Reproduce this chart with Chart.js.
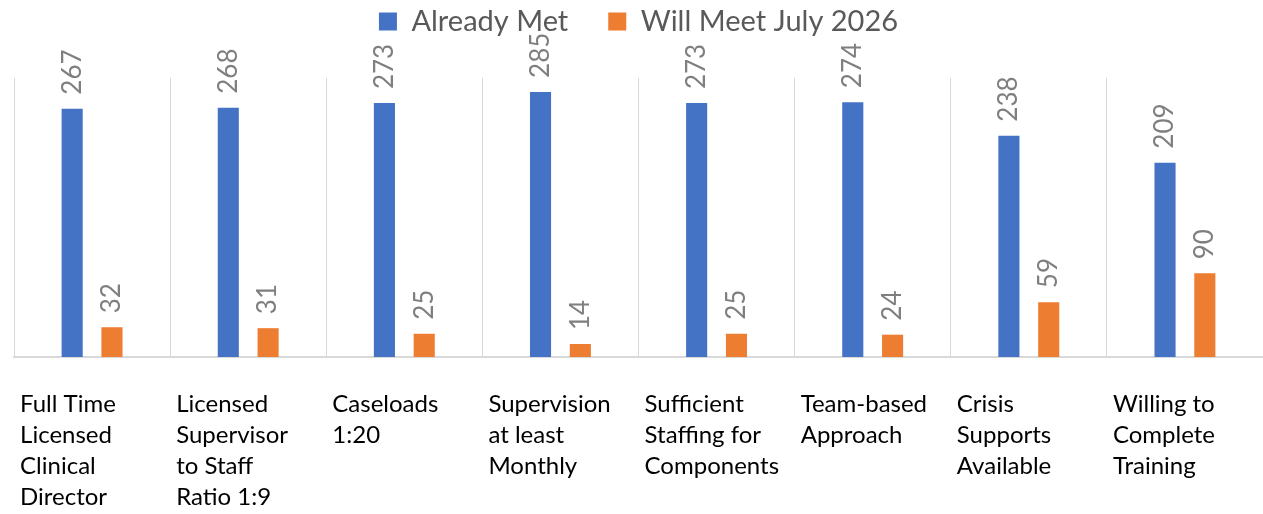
<!DOCTYPE html>
<html>
<head>
<meta charset="utf-8">
<script src="https://cdn.jsdelivr.net/npm/chart.js@4"></script>
<style>
  html, body { margin: 0; padding: 0; background: #fff; overflow: hidden; }
  #wrap { width: 1263px; height: 514px; position: relative; }
</style>
</head>
<body>
<div id="wrap"><canvas id="grafico"></canvas></div>
<script>
// datos del grafico
const categorias = [
    ["Full Time", "Licensed", "Clinical", "Director"],
    ["Licensed", "Supervisor", "to Staff", "Ratio 1:9"],
    ["Caseloads", "1:20"],
    ["Supervision", "at least", "Monthly"],
    ["Sufficient", "Staffing for", "Components"],
    ["Team-based", "Approach"],
    ["Crisis", "Supports", "Available"],
    ["Willing to", "Complete", "Training"]
];
const seriesNombres = ["Already Met", "Will Meet July 2026"];
const yaCumplido = [267, 268, 273, 285, 273, 274, 238, 209];
const cumpliraJulio = [32, 31, 25, 14, 25, 24, 59, 90];

const azul = "#4472C4";
const naranja = "#ED7D31";
const fuente = "Lato, 'Liberation Sans', sans-serif";

// etiquetas de valor giradas encima de cada barra
const etiquetasBarras = {
    id: "etiquetasBarras",
    afterDatasetsDraw(chart) {
        const ctx = chart.ctx;
        ctx.save();
        ctx.font = "26px " + fuente;
        ctx.fillStyle = "#7f7f7f";
        ctx.textAlign = "left";
        ctx.textBaseline = "middle";
        chart.data.datasets.forEach((ds, i) => {
            chart.getDatasetMeta(i).data.forEach((barra, j) => {
                ctx.save();
                ctx.translate(barra.x, barra.y - 14);
                ctx.rotate(-Math.PI / 2);
                ctx.fillText(ds.data[j], 0, 0);
                ctx.restore();
            });
        });
        ctx.restore();
    }
};

// la leyenda ocupa todo el espacio de arriba hasta el area del grafico
const altoLeyenda = {
    id: "altoLeyenda",
    beforeInit(chart) {
        const fitOriginal = chart.legend.fit;
        chart.legend.fit = function fit() {
            fitOriginal.bind(chart.legend)();
            this.height = 111;
        };
    }
};

const config = {
    type: "bar",
    data: {
        labels: categorias,
        datasets: [{
            label: seriesNombres[0],
            data: yaCumplido,
            backgroundColor: azul,
            categoryPercentage: 0.51,
            barPercentage: 0.53
        }, {
            label: seriesNombres[1],
            data: cumpliraJulio,
            backgroundColor: naranja,
            categoryPercentage: 0.51,
            barPercentage: 0.53
        }]
    },
    options: {
        responsive: true,
        maintainAspectRatio: false,
        animation: false,
        layout: { padding: { left: 14, right: 0, top: -33, bottom: 0 } },
        plugins: {
            tooltip: { enabled: false },
            legend: {
                position: "top",
                labels: {
                    boxWidth: 18,
                    boxHeight: 18,
                    color: "#595959",
                    font: { family: fuente, size: 29 },
                    padding: 40
                }
            }
        },
        scales: {
            x: {
                grid: { color: "#d9d9d9", lineWidth: 1, drawTicks: false, offset: true },
                border: { color: "#d9d9d9", width: 2 },
                ticks: {
                    color: "#000",
                    font: { family: fuente, size: 24, lineHeight: "31px" },
                    maxRotation: 0,
                    autoSkip: false,
                    align: "start",
                    labelOffset: -72,
                    padding: 32
                },
                afterFit(escala) {
                    escala.height = 157;
                    escala.paddingLeft = 0;
                    escala.paddingRight = 0;
                }
            },
            y: {
                display: false,
                min: 0,
                max: 300
            }
        }
    },
    plugins: [etiquetasBarras, altoLeyenda]
};

new Chart(document.getElementById("grafico"), config);
</script>
</body>
</html>
